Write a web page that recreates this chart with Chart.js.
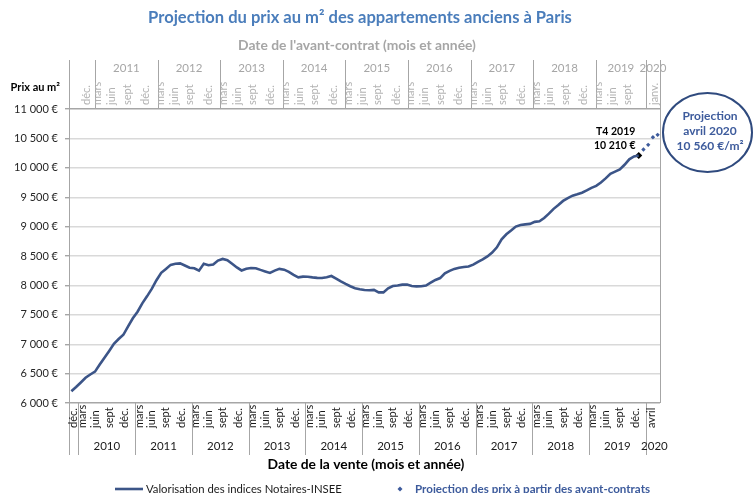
<!DOCTYPE html>
<html><head><meta charset="utf-8">
<script src="https://cdn.jsdelivr.net/npm/chart.js@4.4.1/dist/chart.umd.min.js"></script>
<style>html,body{margin:0;padding:0;background:#fff;}#wrap{position:relative;width:753px;height:493px;}</style>
</head><body><div id="wrap"><canvas id="c" width="753" height="493"></canvas></div>
<script>
// ---- data (monthly, from Nov 2009 to Nov 2019 = T4 2019) ----
const prices = [6199,6272,6349,6429,6485,6534,6654,6770,6886,7007,7089,7160,
7303,7440,7553,7695,7814,7940,8088,8213,8280,8349,8369,8375,
8338,8301,8291,8251,8366,8342,8354,8422,8450,8428,8367,8305,
8254,8282,8297,8293,8264,8238,8212,8252,8281,8268,8231,8179,
8138,8149,8147,8136,8128,8126,8140,8160,8116,8068,8025,7985,
7951,7934,7921,7917,7923,7881,7881,7950,7990,7999,8013,8014,
7991,7983,7985,7998,8046,8093,8125,8205,8248,8281,8299,8313,
8321,8354,8401,8443,8493,8559,8648,8785,8869,8932,9001,9027,
9038,9046,9081,9090,9147,9220,9302,9366,9437,9485,9526,9550,
9577,9616,9658,9693,9750,9820,9899,9935,9972,10051,10144,10193,10210];
const projection = [10310,10390,10520,10560];
const lastLabel = ['T4 2019','10 210 €'];
const calloutLines = ['Projection','avril 2020','10 560 €/m²'];
const saleYears = ['','2010','2011','2012','2013','2014','2015','2016','2017','2018','2019','2020'];
const saleMonths = [['déc.'],['mars','juin','sept','déc.'],['mars','juin','sept','déc.'],['mars','juin','sept','déc.'],['mars','juin','sept','déc.'],['mars','juin','sept','déc.'],['mars','juin','sept','déc.'],['mars','juin','sept','déc.'],['mars','juin','sept','déc.'],['mars','juin','sept','déc.'],['mars','juin','sept','déc.'],['avril']];
const contractYears = ['','2011','2012','2013','2014','2015','2016','2017','2018','2019','2020'];
const contractMonths = [['déc.'],['mars','juin','sept','déc.'],['mars','juin','sept','déc.'],['mars','juin','sept','déc.'],['mars','juin','sept','déc.'],['mars','juin','sept','déc.'],['mars','juin','sept','déc.'],['mars','juin','sept','déc.'],['mars','juin','sept','déc.'],['mars','juin','sept'],['janv.']];
const yMin = 6000, yMax = 11000, yStep = 500;

// ---- layout (axis units) ----
const saleBounds = [0,2,14,26,38,50,62,74,86,98,110,122,125];
const saleOffsets = [[0.95],[0.8,3.5,6.5,9.8],[0.8,3.5,6.5,9.8],[0.8,3.5,6.5,9.8],[0.8,3.5,6.5,9.8],[0.8,3.5,6.5,9.8],[0.8,3.5,6.5,9.8],[0.8,3.5,6.5,9.8],[0.8,3.5,6.5,9.8],[0.8,3.5,6.5,9.8],[0.8,3.5,6.5,9.8],[1.2]];
const contractBounds = [0,5,17,29,41,53,65,77,89,101,110.6,113.3];
const contractOffsets = [[3.4],[0.55,3.2,6.15,9.7],[0.55,3.2,6.15,9.7],[0.55,3.2,6.15,9.7],[0.55,3.2,6.15,9.7],[0.55,3.2,6.15,9.7],[0.55,3.2,6.15,9.7],[0.55,3.2,6.15,9.7],[0.55,3.2,6.15,9.7],[0.55,3.2,6.15],[1.6]];

const FAM = 'Lato, "Open Sans", sans-serif';
const LINE = '#3c5588';
const BLUE = '#3d5b9c';
const TITLE = '#4a7dbb';
const fmt = v => String(v).replace(/\B(?=(\d{3})+(?!\d))/g,' ') + ' €';

function fitFont(ctx, text, weight, target){
  ctx.font = weight + ' 100px ' + FAM;
  const w = ctx.measureText(text).width;
  return weight + ' ' + (100*target/w).toFixed(2) + 'px ' + FAM;
}
function vtext(ctx, text, x, yBottom, font, color){
  ctx.save(); ctx.translate(x, yBottom); ctx.rotate(-Math.PI/2);
  ctx.font = font; ctx.fillStyle = color; ctx.textAlign = 'left'; ctx.textBaseline = 'middle';
  ctx.fillText(text, 0, 0); ctx.restore();
}
function htext(ctx, text, x, y, font, color, align){
  ctx.font = font; ctx.fillStyle = color; ctx.textAlign = align || 'center'; ctx.textBaseline = 'middle';
  ctx.fillText(text, x, y);
}
function vline(ctx, x, y1, y2, color){
  ctx.beginPath(); ctx.strokeStyle = color; ctx.lineWidth = 1;
  const xx = Math.round(x) + 0.5; ctx.moveTo(xx, y1); ctx.lineTo(xx, y2); ctx.stroke();
}

const decor = {
  id: 'decor',
  afterDraw(chart){
    const ctx = chart.ctx, a = chart.chartArea;
    const sx = chart.scales.x, st = chart.scales.xTop;
    ctx.save();
    // titles
    htext(ctx, 'Projection du prix au m² des appartements anciens à Paris', 360, 18, fitFont(ctx,'Projection du prix au m² des appartements anciens à Paris','bold',424), TITLE);
    htext(ctx, "Date de l'avant-contrat (mois et année)", 357, 46, fitFont(ctx,"Date de l'avant-contrat (mois et année)",'bold',238), '#a6a6a6');
    htext(ctx, 'Prix au m²', 60, 87, 'bold 11px ' + FAM, '#000', 'right');
    htext(ctx, 'Date de la vente (mois et année)', 366, 465, fitFont(ctx,'Date de la vente (mois et année)','bold',197), '#000');

    // top axis (date de l'avant-contrat)
    const topFont = '11px ' + FAM;
    contractBounds.forEach(b => vline(ctx, st.getPixelForValue(b), 60, a.top, '#a6a6a6'));
    contractYears.forEach((y, g) => {
      if (!y) return;
      const c = (contractBounds[g] + contractBounds[g+1]) / 2;
      htext(ctx, y, st.getPixelForValue(c), 68, '11.5px ' + FAM, '#a6a6a6');
    });
    contractMonths.forEach((ms, g) => ms.forEach((m, k) => {
      vtext(ctx, m, st.getPixelForValue(contractBounds[g] + contractOffsets[g][k]), 105, topFont, '#b3b3b3');
    }));

    // bottom axis (date de la vente)
    saleBounds.forEach((b, i) => vline(ctx, sx.getPixelForValue(b), a.bottom, i === saleBounds.length-1 ? a.bottom : 455, '#a6a6a6'));
    saleYears.forEach((y, g) => {
      if (!y) return;
      const c = (saleBounds[g] + saleBounds[g+1]) / 2;
      htext(ctx, y, sx.getPixelForValue(c) + (g === saleYears.length-1 ? 1.5 : 0), 446, '11.5px ' + FAM, '#1a1a1a');
    });
    saleMonths.forEach((ms, g) => ms.forEach((m, k) => {
      vtext(ctx, m, sx.getPixelForValue(saleBounds[g] + saleOffsets[g][k]), 428, '11px ' + FAM, '#1a1a1a');
    }));
    // right border
    vline(ctx, a.right, 60, a.bottom, '#a6a6a6');

    // annotation of last value
    const meta = chart.getDatasetMeta(2).data[0];
    htext(ctx, lastLabel[0], meta.x - 23, meta.y - 24, 'bold 10.5px ' + FAM, '#000');
    htext(ctx, lastLabel[1], meta.x - 24, meta.y - 10, 'bold 10.5px ' + FAM, '#000');

    // callout
    ctx.beginPath(); ctx.ellipse(707.5, 132.5, 44.5, 39.5, 0, 0, Math.PI*2);
    ctx.strokeStyle = '#2f4a7e'; ctx.lineWidth = 2; ctx.stroke();
    calloutLines.forEach((t, i) => htext(ctx, t, 710, 116 + i*15, 'bold 12px ' + FAM, BLUE));

    // legend
    ctx.beginPath(); ctx.strokeStyle = LINE; ctx.lineWidth = 2.6;
    ctx.moveTo(115, 489); ctx.lineTo(143, 489); ctx.stroke();
    htext(ctx, chart.data.datasets[0].label, 146, 489, fitFont(ctx, chart.data.datasets[0].label, 'normal', 196), '#1a1a1a', 'left');
    ctx.beginPath(); ctx.fillStyle = BLUE;
    ctx.moveTo(400, 486.5); ctx.lineTo(402.5, 489); ctx.lineTo(400, 491.5); ctx.lineTo(397.5, 489); ctx.closePath(); ctx.fill();
    htext(ctx, chart.data.datasets[1].label, 415, 489, fitFont(ctx, chart.data.datasets[1].label, 'bold', 235), BLUE, 'left');
    ctx.restore();
  }
};

const yTicks = [];
for (let v = yMin; v <= yMax; v += yStep) yTicks.push(v);

new Chart(document.getElementById('c'), {
  type: 'line',
  data: { datasets: [
    { label: 'Valorisation des indices Notaires-INSEE', data: prices.map((v,i)=>({x:i+0.5,y:v})),
      borderColor: LINE, borderWidth: 2.6, pointRadius: 0, tension: 0, xAxisID: 'x' },
    { label: 'Projection des prix à partir des avant-contrats', data: projection.map((v,i)=>({x:prices.length+i+0.5,y:v})),
      showLine: false, pointStyle: 'rectRot', pointRadius: 2.2, backgroundColor: BLUE, borderColor: BLUE, borderWidth: 0, xAxisID: 'x' },
    { label: 'T4', data: [{x: prices.length-0.5, y: prices[prices.length-1]}],
      showLine: false, pointStyle: 'rectRot', pointRadius: 3.5, backgroundColor: '#000', borderColor: '#000', borderWidth: 0, xAxisID: 'x' }
  ]},
  options: {
    responsive: false, animation: false, devicePixelRatio: 1,
    layout: { padding: { left: 0, top: 109, right: 93, bottom: 90 } },
    plugins: { legend: { display: false }, tooltip: { enabled: false }, title: { display: false } },
    scales: {
      x: { type: 'linear', min: 0, max: 125, display: false },
      xTop: { type: 'linear', position: 'top', min: 0, max: 113.3, display: false },
      y: { min: yMin, max: yMax,
        afterBuildTicks: s => { s.ticks = yTicks.map(v => ({value: v})); },
        ticks: { callback: v => fmt(v), font: { family: FAM, size: 11 }, color: '#262626', padding: 7 },
        grid: { color: c => (c.tick && (c.tick.value === yMin || c.tick.value === yMax)) ? '#a6a6a6' : '#d9d9d9',
                lineWidth: 1.4, tickLength: 4, tickColor: '#a6a6a6' },
        border: { color: '#a6a6a6', width: 1 },
        afterFit: s => { s.width = 69; } }
    }
  },
  plugins: [decor]
});
// left axis extension across both label bands
</script>
</body></html>
